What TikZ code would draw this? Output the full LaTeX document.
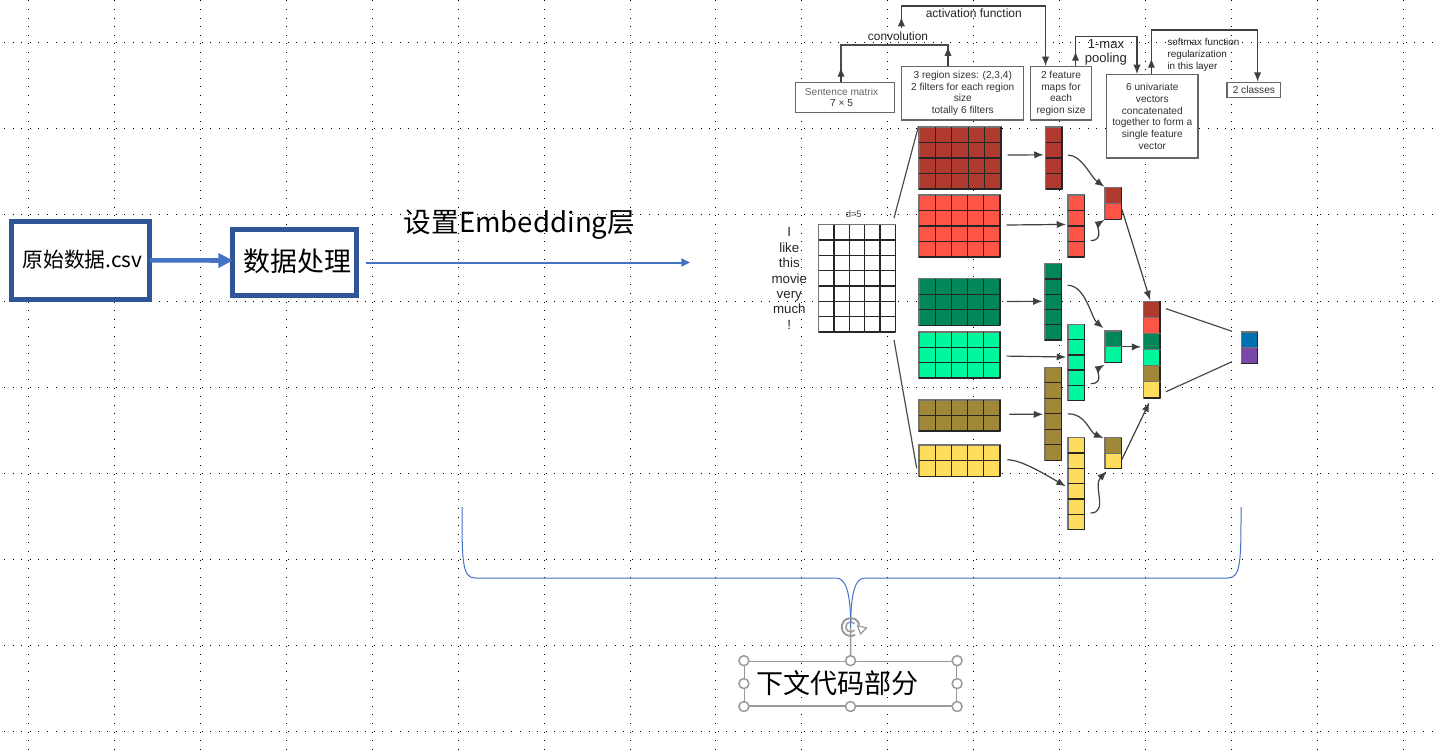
\documentclass[tikz,border=0pt]{standalone}
\usepackage{fontspec}
\setmainfont{Liberation Sans}
\newfontfamily\cjk{Noto Sans CJK SC}
\usetikzlibrary{arrows.meta}

\definecolor{boxblue}{HTML}{2F5597}
\definecolor{lineblue}{HTML}{4472C4}
\definecolor{handlegray}{HTML}{999999}
\definecolor{cellredA}{HTML}{B03A30}
\definecolor{cellredB}{HTML}{FF5549}
\definecolor{cellgreenA}{HTML}{00865A}
\definecolor{cellgreenB}{HTML}{00F79E}
\definecolor{cellbrown}{HTML}{A08838}
\definecolor{cellyellow}{HTML}{FFDD5C}
\definecolor{cellblue}{HTML}{0070B0}
\definecolor{cellpurple}{HTML}{7A4AA8}

\tikzset{every picture/.style={line width=0.75pt}}
\tikzset{
  griddots/.style={black,line width=0.75pt,dash pattern=on 0.75pt off 5.7pt},
  mainbox/.style={draw=boxblue,line width=3.5pt,fill=white,inner sep=0pt},
  labelbox/.style={draw=black!60,line width=0.9pt,fill=white,inner sep=0pt,align=center,text=black!80,font=\fontsize{7.6}{8.8}\selectfont},
  flow/.style={black!75,line width=0.9pt,-{Latex[length=7pt,width=5.5pt]}},
  plainflow/.style={black!70,line width=0.9pt},
  cellnode/.style={draw=black!55,line width=0.9pt,inner sep=0pt},
  handle/.style={circle,draw=handlegray,line width=1.1pt,fill=white,minimum size=7.5pt,inner sep=0pt},
}

% name, left, top, right, bottom, columns, rows, colour
\newcommand{\cellgrid}[8]{
  \pgfmathsetmacro{\cellw}{(#4-#2)*0.75}
  \pgfmathsetmacro{\cellh}{(#5-#3)*0.75}
  \draw ({(#2+#4)/2},{(#3+#5)/2}) node [cellnode,fill=#8,minimum width=\cellw pt,minimum height=\cellh pt] (#1) {};
  \foreach \i in {1,...,#6} {
    \draw [black!85,line width=1pt] ({#2+\i*(#4-#2)/#6},#3) -- ({#2+\i*(#4-#2)/#6},#5);
  }
  \foreach \j in {1,...,#7} {
    \draw [black!85,line width=1pt] (#2,{#3+\j*(#5-#3)/#7}) -- (#4,{#3+\j*(#5-#3)/#7});
  }
}

\begin{document}
\begin{tikzpicture}[x=0.75pt,y=0.75pt,yscale=-1,xscale=1]
\useasboundingbox (0,0) rectangle (1433,752);
\fill [white] (0,0) rectangle (1433,752);

%Dotted page grid
\foreach \r in {0,...,8} {
  \draw [griddots] (4,{43+\r*86}) -- (1433,{43+\r*86});
}
\foreach \c in {0,...,16} {
  \draw [griddots] ({28.7+\c*85.9},0.5) -- ({28.7+\c*85.9},752);
}

% Left boxes
\draw (80.5,260.3) node [mainbox,minimum width=103.8pt,minimum height=58.5pt] (rawBox) {};
\draw (294.5,262.5) node [mainbox,minimum width=93.3pt,minimum height=49.2pt] (prepBox) {};
% Text Node
\draw (82.4,260) node [inner sep=0pt,font=\cjk\fontsize{15.6}{18}\selectfont] (rawText) {原始数据.csv};
% Text Node
\draw (297.5,261.7) node [inner sep=0pt,font=\cjk\fontsize{20.2}{24}\selectfont] (prepText) {数据处理};
% Text Node
\draw (519.5,225) node [inner sep=0pt,font=\cjk\fontsize{20.7}{24}\selectfont] (embedText) {设置Embedding层};

\coordinate (embedEnd) at (690,262.5);
\draw [lineblue,line width=3.4pt,-{Triangle[length=11pt,width=10.5pt]},shorten <=-1.5pt,shorten >=-2.25pt] ([yshift=0.1pt]rawBox.east) -- ([yshift=-1.5pt]prepBox.west);
\draw [lineblue,line width=1.5pt,-{Triangle[length=6.5pt,width=6pt]}] ([xshift=5pt]prepBox.east) -- (embedEnd);

% Word column and sentence matrix
\draw (789.3,278.5) node [inner sep=0pt,align=center,text=black!85,font=\fontsize{10}{11.55}\selectfont] (words) {I\\like\\this\\movie\\very\\much\\!};
\draw (853.7,213.7) node [inner sep=0pt,text=black!75,font=\fontsize{7}{8}\selectfont] (dimText) {d=5};
\cellgrid{matrix}{818.7}{224.7}{895.3}{332}{5}{7}{white}

% Filter grids
\cellgrid{gridRedA}{919}{127}{1001}{189}{5}{4}{cellredA}
\cellgrid{gridRedB}{919}{195}{1000}{257}{5}{4}{cellredB}
\cellgrid{gridGreenA}{919}{278.7}{1000}{325.3}{5}{3}{cellgreenA}
\cellgrid{gridGreenB}{919}{332}{1000}{378}{5}{3}{cellgreenB}
\cellgrid{gridBrown}{919}{400}{1000}{431}{5}{2}{cellbrown}
\cellgrid{gridYellow}{919}{445}{1000}{476.3}{5}{2}{cellyellow}

% Feature maps
\cellgrid{colRedA}{1045.5}{127}{1062}{189}{1}{4}{cellredA}
\cellgrid{colRedB}{1068}{195}{1084.3}{257}{1}{4}{cellredB}
\cellgrid{colGreenA}{1045}{263.7}{1061.7}{340}{1}{5}{cellgreenA}
\cellgrid{colGreenB}{1068}{324.3}{1084.3}{400.7}{1}{5}{cellgreenB}
\cellgrid{colBrown}{1045}{367.3}{1061.7}{460.3}{1}{6}{cellbrown}
\cellgrid{colYellow}{1068}{437.7}{1084.3}{529.7}{1}{6}{cellyellow}

% Pooled pairs
\cellgrid{poolRedA}{1105}{187.3}{1121.3}{203.3}{1}{1}{cellredA}
\cellgrid{poolRedB}{1105}{203.3}{1121.3}{219.3}{1}{1}{cellredB}
\cellgrid{poolGreenA}{1105}{331}{1121.3}{346.8}{1}{1}{cellgreenA}
\cellgrid{poolGreenB}{1105}{346.8}{1121.3}{362.7}{1}{1}{cellgreenB}
\cellgrid{poolBrown}{1105}{437.7}{1121.3}{453.2}{1}{1}{cellbrown}
\cellgrid{poolYellow}{1105}{453.2}{1121.3}{468.7}{1}{1}{cellyellow}

% Concatenated vector
\cellgrid{vecRedA}{1143.7}{301.3}{1160}{317.4}{1}{1}{cellredA}
\cellgrid{vecRedB}{1143.7}{317.4}{1160}{333.5}{1}{1}{cellredB}
\cellgrid{vecGreenA}{1143.7}{333.5}{1160}{349.6}{1}{1}{cellgreenA}
\cellgrid{vecGreenB}{1143.7}{349.6}{1160}{365.7}{1}{1}{cellgreenB}
\cellgrid{vecBrown}{1143.7}{365.7}{1160}{381.8}{1}{1}{cellbrown}
\cellgrid{vecYellow}{1143.7}{381.8}{1160}{398}{1}{1}{cellyellow}

% Output
\cellgrid{outBlue}{1241.3}{332}{1257.7}{347.8}{1}{1}{cellblue}
\cellgrid{outPurple}{1241.3}{347.8}{1257.7}{363.7}{1}{1}{cellpurple}

%Straight Lines
\coordinate (fanTop) at (894,218);
\coordinate (fanLow) at (894,340);
\coordinate (fanEnd) at (916.7,468.3);
\draw [plainflow] (fanTop) -- (gridRedA.north west);
\draw [plainflow] (fanLow) -- (fanEnd);
\coordinate (outTopA) at (1166,308.7);
\coordinate (outTopB) at (1232,331.3);
\coordinate (outLowA) at (1166,391.7);
\coordinate (outLowB) at (1232,361.7);
\draw [plainflow] (outTopA) -- (outTopB);
\draw [plainflow] (outLowA) -- (outLowB);

% Grid to feature map
\draw [flow,shorten <=4.5pt,shorten >=1pt] ([yshift=-2.2pt]gridRedA.east) -- ([yshift=-2.4pt]colRedA.west);
\draw [flow,shorten <=4.5pt,shorten >=1pt] ([yshift=-0.7pt]gridRedB.east) -- ([yshift=-1.2pt]colRedB.west);
\draw [flow,shorten <=4.5pt,shorten >=1.5pt] ([yshift=-0.4pt]gridGreenA.east) -- ([yshift=-0.4pt]colGreenA.west);
\draw [flow,shorten <=4.5pt,shorten >=1pt] ([yshift=0.75pt]gridGreenB.east) -- ([yshift=-4.1pt]colGreenB.west);
\draw [flow,shorten <=6.5pt,shorten >=1pt] ([yshift=-0.9pt]gridBrown.east) -- ([yshift=0.4pt]colBrown.west);
\draw [flow,shorten <=5pt,shorten >=1.5pt] ([yshift=-0.7pt]gridYellow.east) .. controls +(20,0) and +(-24,-14) .. ([yshift=2.7pt]colYellow.west);

% Feature map to pool
\draw [flow] ([xshift=4pt,yshift=-2.2pt]colRedA.east) .. controls +(14,0) and +(-14,-10) .. (poolRedA.north west);
\draw [flow] ([xshift=4.3pt,yshift=-12.75pt]colRedB.south east) .. controls +(14,0) and +(-8,5) .. (poolRedB.south west);
\draw [flow] ([xshift=4pt,yshift=-12.4pt]colGreenA.east) .. controls +(18,0) and +(-12,-10) .. ([xshift=-0.75pt,yshift=-1.7pt]poolGreenA.north west);
\draw [flow] ([xshift=4.3pt,yshift=15.9pt]colGreenB.east) .. controls +(14,0) and +(-8,5) .. ([yshift=1pt]poolGreenB.south west);
\draw [flow] ([xshift=4.2pt]colBrown.east) .. controls +(18,0) and +(-14,-6) .. ([xshift=-0.75pt,yshift=0.75pt]poolBrown.north west);
\draw [flow] ([xshift=4.3pt,yshift=-13pt]colYellow.south east) .. controls +(18,0) and +(-14,14) .. ([xshift=1.7pt,yshift=1.5pt]poolYellow.south west);

% Pool to vector
\draw [flow] ([yshift=5pt]poolRedB.north east) -- ([xshift=5.25pt,yshift=-0.45pt]vecRedA.north west);
\draw [flow,shorten >=1.5pt] ([yshift=-0.4pt]poolGreenA.south east) -- ([yshift=-2.5pt]vecGreenA.south west);
\draw [flow] ([yshift=-1.2pt]poolYellow.east) -- ([xshift=4.7pt,yshift=2.8pt]vecYellow.south west);

% Header boxes
\draw (845,97.3) node [labelbox,minimum width=74.2pt,minimum height=22.5pt] (boxSentence) {};
\draw (841.5,97.3) node [inner sep=0pt,align=center,text=black!80,font=\fontsize{7.6}{8.8}\selectfont] (sentenceText) {{\color{black!60}Sentence matrix}\\7 × 5};
\draw (962.75,93.35) node [labelbox,minimum width=91.6pt,minimum height=40pt] (boxRegion) {3 region sizes: (2,3,4)\\2 filters for each region\\size\\totally 6 filters};
\draw (1061,93.35) node [labelbox,minimum width=45.5pt,minimum height=40pt] (boxFeature) {2 feature\\maps for\\each\\region size};
\draw (1152.3,116.35) node [labelbox,minimum width=68.5pt,minimum height=62.5pt] (boxUni) {6 univariate\\vectors\\concatenated\\together to form a\\single feature\\vector};
\draw (1253.85,89.8) node [labelbox,minimum width=40.3pt,minimum height=11.25pt] (boxClasses) {2 classes};

% Header connectors
\coordinate (convMid) at (900,45);
\coordinate (actStart) at (901.4,28);
\coordinate (actMid) at (974,6);
\coordinate (maxMid) at (1105,36.7);
\coordinate (softMid) at (1200,30);
\draw [plainflow] ([xshift=-3pt]boxSentence.north) |- (convMid) -| ([xshift=-11.06pt]boxRegion.north);
\draw [flow] ([xshift=-3pt]boxSentence.north) -- ++(0,-14.3);
\draw [flow] ([xshift=-11.06pt]boxRegion.north) -- ++(0,-19.5);
\draw [flow] (actStart) -- ++(0,-11);
\draw [flow] (actStart) |- (actMid) -| ([xshift=-11.6pt]boxFeature.north);
\draw [flow] ([xshift=10.9pt]boxFeature.north) -- ++(0,-14.7);
\draw [flow] ([xshift=10.9pt]boxFeature.north) |- (maxMid) -| ([xshift=-11.5pt]boxUni.north);
\draw [flow] ([xshift=-0.7pt]boxUni.north) -- ++(0,-15.7);
\draw [flow] ([xshift=-0.7pt]boxUni.north) |- (softMid) -| ([xshift=2.8pt]boxClasses.north);

% Text Node
\draw (973.8,13.3) node [inner sep=0pt,text=black!85,font=\fontsize{9}{10}\selectfont] (actText) {activation function};
% Text Node
\draw (898,36.7) node [inner sep=0pt,text=black!85,font=\fontsize{8.9}{10}\selectfont] (convText) {convolution};
% Text Node
\draw (1105.9,52.2) node [inner sep=0pt,align=center,text=black!85,font=\fontsize{9.8}{10.3}\selectfont] (maxText) {1-max\\pooling};
% Text Node
\draw (1167,55) node [anchor=west,inner sep=0pt,align=left,text=black!85,font=\fontsize{7.4}{8.8}\selectfont] (softText) {softmax function\\regularization\\in this layer};

% Bottom brace
\coordinate (braceLeft) at (462,507);
\coordinate (braceRight) at (1241,507);
\coordinate (braceTip) at (850.7,627);
\draw [lineblue] (braceLeft) .. controls (462,560) and (462,578) .. (475,578) -- (836,578) .. controls (845,578) and (850.7,590) .. (braceTip);
\draw [lineblue] (braceRight) .. controls (1241,560) and (1241,578) .. (1228,578) -- (865,578) .. controls (856,578) and (850.7,590) .. (braceTip);

% Selected text box
\draw (850.5,683.6) node [draw=handlegray,line width=0.9pt,minimum width=159pt,minimum height=33.5pt,inner sep=0pt] (codeBox) {};
\draw (837.8,683) node [inner sep=0pt,font=\cjk\fontsize{20.3}{24}\selectfont] (codeText) {下文代码部分};
\draw [handlegray,line width=1.1pt] (codeBox.north) -- (braceTip);
\foreach \a/\n in {north west/hNW,north/hN,north east/hNE,west/hW,east/hE,south west/hSW,south/hS,south east/hSE} {
  \draw (codeBox.\a) node [handle] (\n) {};
}

% Rotate icon
\draw [handlegray,line width=1.4pt] (850.7,627) ++(60:9) arc (60:345:9);
\draw [handlegray,line width=1.1pt] (850.7,627) ++(40:5) arc (40:320:5);
\draw [handlegray,line width=0.9pt,fill=white] (857.5,625.5) -- (866.5,628) -- (860.5,634) -- cycle;
\draw [lineblue] (850.7,619) -- (braceTip);

\end{tikzpicture}
\end{document}
